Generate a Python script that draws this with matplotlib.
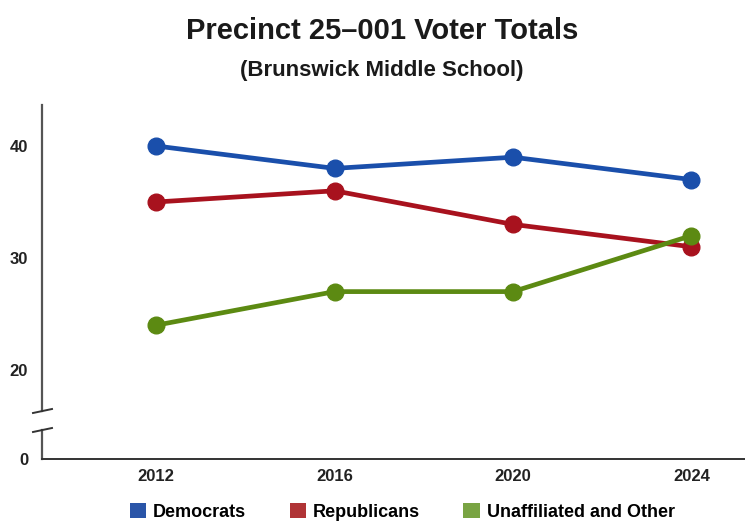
import matplotlib
matplotlib.use("Agg")
import matplotlib.pyplot as plt
from matplotlib.lines import Line2D
from matplotlib.patches import Patch

# --- datos ---
years = ["2012", "2016", "2020", "2024"]
democrats = [40, 38, 39, 37]
republicans = [35, 36, 33, 31]
unaffiliated = [24, 27, 27, 32]

series = [
    ("Democrats", democrats, "#1a4fab", "#2a55a8"),
    ("Republicans", republicans, "#a8121e", "#b03436"),
    ("Unaffiliated and Other", unaffiliated, "#5c8a12", "#79a443"),
]

plt.rcParams["font.family"] = ["Liberation Sans", "DejaVu Sans"]
fig = plt.figure(figsize=(7.45, 5.24), dpi=100)
W, H = 745, 524

def fx(px):
    return px / W

def fy(py):
    return 1 - py / H

left = fx(42)
width = 1 - left
# eje superior (16.3 - 43.7), eje inferior con el 0
ax = fig.add_axes([left, fy(411), width, fy(105) - fy(411)])
ax0 = fig.add_axes([left, fy(459), width, fy(430) - fy(459)], sharex=ax)

x = list(range(len(years)))
for name, vals, col, _ in series:
    ax.plot(x, vals, color=col, lw=3.4, marker="o", ms=12, solid_capstyle="round", zorder=3)

ax.set_xlim(-0.64, 3.30)
ax.set_ylim(16.34, 43.66)
ax.set_yticks([20, 30, 40])
ax0.set_ylim(0, 1)
ax0.set_yticks([0])
ax0.set_xticks(x)
ax0.set_xticklabels(years)

axis_col = "#555555"
for a in (ax, ax0):
    for s in ("top", "right"):
        a.spines[s].set_visible(False)
    a.spines["left"].set_color(axis_col)
    a.spines["left"].set_linewidth(1.6)
    a.tick_params(axis="y", length=0, pad=10, labelsize=12, colors="#222222")
ax.spines["bottom"].set_visible(False)
ax.tick_params(axis="x", bottom=False, labelbottom=False)
ax0.spines["bottom"].set_color("#333333")
ax0.spines["bottom"].set_linewidth(1.4)
ax0.tick_params(axis="x", length=0, pad=7, labelsize=12, colors="#222222")
for lab in ax.get_yticklabels() + ax0.get_yticklabels() + ax0.get_xticklabels():
    lab.set_fontweight("bold")

# marcas de corte del eje
for py in (411, 430):
    fig.add_artist(Line2D([fx(33), fx(52)], [fy(py + 2), fy(py - 2)],
                          color="#333333", lw=1.4))

fig.text(0.513, fy(31), "Precinct 25\u2013001 Voter Totals", ha="center", va="center",
         fontsize=21, fontweight="bold", color="#1a1a1a")
fig.text(0.513, fy(70), "(Brunswick Middle School)", ha="center", va="center",
         fontsize=16, fontweight="bold", color="#1a1a1a")

handles = [Patch(facecolor=lc, edgecolor="none", label=name) for name, _, _, lc in series]
fig.legend(handles=handles, loc="center", bbox_to_anchor=(0.54, fy(512)), ncol=3,
           frameon=False, handlelength=0.9, handleheight=0.9,
           handletextpad=0.4, columnspacing=2.4, prop={"weight": "bold", "size": 13})

fig.savefig("out.png", dpi=100)
